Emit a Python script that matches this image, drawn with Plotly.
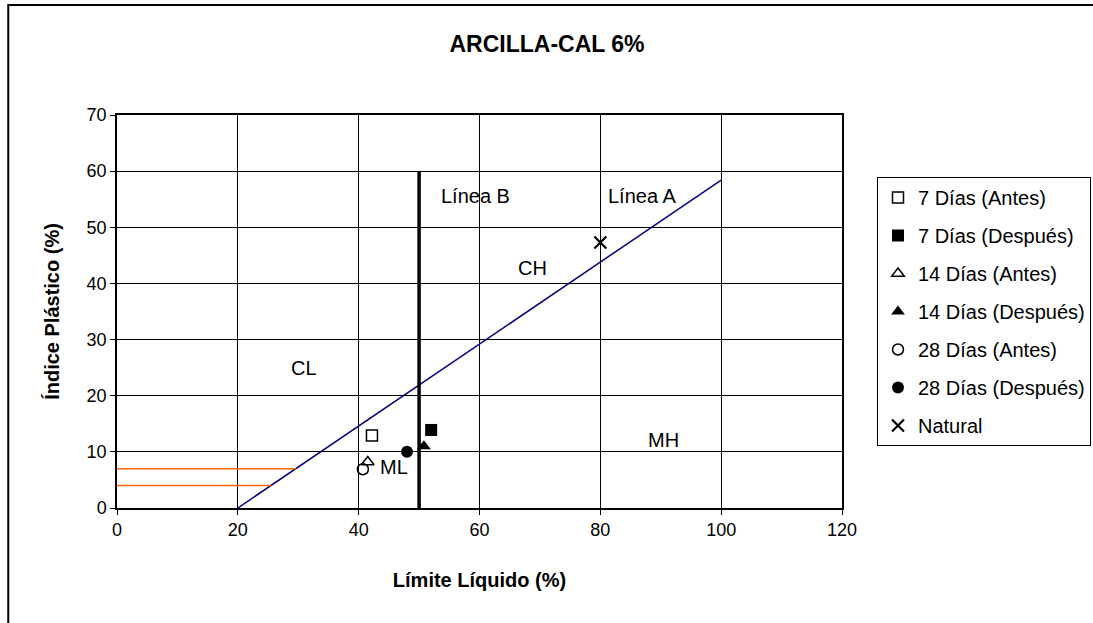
import plotly.graph_objects as go

# Data
series_names = ["7 Días (Antes)", "7 Días (Después)", "14 Días (Antes)", "14 Días (Después)",
                "28 Días (Antes)", "28 Días (Después)", "Natural"]
ll_values = [42.2, 52.0, 41.5, 50.8, 40.7, 48.0, 80.0]
ip_values = [12.9, 13.9, 8.2, 11.0, 6.9, 10.0, 47.3]
markers = ["square-open", "square", "triangle-up-open", "triangle-up", "circle-open", "circle", "x-thin-open"]

lineA_x = [20, 100]
lineA_y = [0, 58.4]
lineB_x = [50, 50]
lineB_y = [0, 60]
orange1_x = [0, 29.6]
orange1_y = [7, 7]
orange2_x = [0, 25.5]
orange2_y = [4, 4]

zone_labels = ["Línea B", "Línea A", "CH", "CL", "MH", "ML"]
zone_x = [59.3, 87.0, 68.8, 31.0, 90.5, 45.8]
zone_y = [55.6, 55.6, 42.8, 25.0, 12.2, 7.3]

FONT = "Liberation Sans, Arial, sans-serif"

fig = go.Figure()

fig.add_trace(go.Scatter(x=lineA_x, y=lineA_y, mode="lines", line=dict(color="#000080", width=1.5),
                         showlegend=False, hoverinfo="skip"))
fig.add_trace(go.Scatter(x=lineB_x, y=lineB_y, mode="lines", line=dict(color="black", width=3.5),
                         showlegend=False, hoverinfo="skip"))
fig.add_trace(go.Scatter(x=orange1_x, y=orange1_y, mode="lines", line=dict(color="#FF6600", width=1.5),
                         showlegend=False, hoverinfo="skip"))
fig.add_trace(go.Scatter(x=orange2_x, y=orange2_y, mode="lines", line=dict(color="#FF6600", width=1.5),
                         showlegend=False, hoverinfo="skip"))

for i, name in enumerate(series_names):
    sym = markers[i]
    if sym == "x-thin-open":
        mk = dict(symbol=sym, size=12, color="black", line=dict(color="black", width=2.2))
    elif sym.endswith("-open"):
        mk = dict(symbol=sym, size=11, color="black", line=dict(color="black", width=1.5))
    else:
        mk = dict(symbol=sym, size=12, color="black", line=dict(color="black", width=0))
    fig.add_trace(go.Scatter(x=[ll_values[i]], y=[ip_values[i]], mode="markers", name=name,
                             marker=mk, legendgroup=f"g{i}", cliponaxis=False))

for t, x, y in zip(zone_labels, zone_x, zone_y):
    fig.add_annotation(x=x, y=y, text=t, showarrow=False, font=dict(size=20, color="black", family=FONT))

# outer chart frame
fig.add_shape(type="rect", xref="paper", yref="paper", x0=-0.150, x1=1.40, y0=-0.35, y1=1.28,
              line=dict(color="black", width=2), fillcolor="rgba(0,0,0,0)", layer="below")

fig.update_layout(
    width=1093, height=623,
    margin=dict(l=117, r=251, t=115, b=115),
    paper_bgcolor="white", plot_bgcolor="white",
    font=dict(family=FONT, size=18, color="black"),
    title=dict(text="<b>ARCILLA-CAL 6%</b>", x=547 / 1093, xanchor="center", y=1 - 44 / 623, yanchor="middle",
               font=dict(size=23, family=FONT)),
    xaxis=dict(range=[0, 120], tickvals=[0, 20, 40, 60, 80, 100, 120], showgrid=True, gridcolor="black",
               gridwidth=1.3, zeroline=False, showline=True, linecolor="black", linewidth=1.5, mirror=True,
               ticks="outside", ticklen=5, tickcolor="black",
               title=dict(text="<b>Límite Líquido (%)</b>", font=dict(size=20), standoff=34),
               tickfont=dict(size=18)),
    yaxis=dict(range=[0, 70], tickvals=[0, 10, 20, 30, 40, 50, 60, 70], showgrid=True, gridcolor="black",
               gridwidth=1.3, zeroline=False, showline=True, linecolor="black", linewidth=1.5, mirror=True,
               ticks="outside", ticklen=5, tickcolor="black",
               title=dict(text="<b>Índice Plástico (%)</b>", font=dict(size=20), standoff=22),
               tickfont=dict(size=18)),
    legend=dict(xref="container", yref="container", x=877 / 1093, y=1 - 177 / 623, xanchor="left",
                yanchor="top", bordercolor="black", borderwidth=1, bgcolor="white",
                font=dict(size=20, family=FONT), tracegroupgap=9, itemwidth=30),
)

fig.write_html("out.html")
